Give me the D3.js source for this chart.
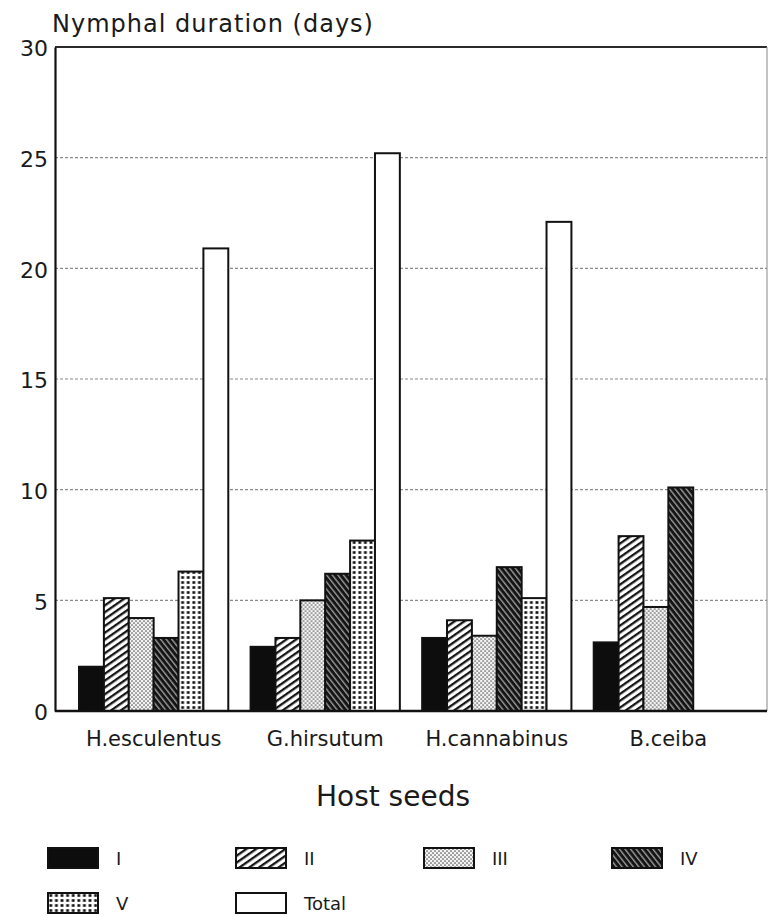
<!DOCTYPE html>
<html>
<head>
<meta charset="utf-8">
<script src="https://cdn.jsdelivr.net/npm/d3@7"></script>
<style>
  html, body { margin: 0; padding: 0; background: #fff; }
  svg { display: block; }
  text { font-family: "DejaVu Sans", sans-serif; fill: #1a1a1a; }
</style>
</head>
<body>
<svg id="chart" width="769" height="916"></svg>
<script>
// ---- data ----
const categories = ["H.esculentus", "G.hirsutum", "H.cannabinus", "B.ceiba"];
const seriesNames = ["I", "II", "III", "IV", "V", "Total"];
const instarI   = [2.0, 2.9, 3.3, 3.1];
const instarII  = [5.1, 3.3, 4.1, 7.9];
const instarIII = [4.2, 5.0, 3.4, 4.7];
const instarIV  = [3.3, 6.2, 6.5, 10.1];
const instarV   = [6.3, 7.7, 5.1, null];
const totalDur  = [20.9, 25.2, 22.1, null];
const yTicks = [0, 5, 10, 15, 20, 25, 30];
const yTitle = "Nymphal duration (days)";
const xTitle = "Host seeds";

const seriesValues = [instarI, instarII, instarIII, instarIV, instarV, totalDur];
const fills = ["url(#pI)", "url(#pII)", "url(#pIII)", "url(#pIV)", "url(#pV)", "#fff"];

// ---- layout ----
const svg = d3.select("#chart");
const plotLeft = 55, plotRight = 767, plotTop = 47, plotBottom = 711;

const y = d3.scaleLinear().domain([0, 30]).range([plotBottom, plotTop]);
const x0 = d3.scaleBand().domain(categories).range([plotLeft, plotRight])
  .paddingInner(0.13).paddingOuter(0.14);
const x1 = d3.scaleBand().domain(seriesNames).range([0, x0.bandwidth()]).padding(0);

// ---- patterns ----
const defs = svg.append("defs");
const p2 = defs.append("pattern").attr("id", "pII").attr("patternUnits", "userSpaceOnUse")
  .attr("width", 10).attr("height", 5.6).attr("patternTransform", "rotate(-35)");
p2.append("rect").attr("width", 10).attr("height", 5.6).attr("fill", "#fff");
p2.append("rect").attr("y", 0).attr("width", 10).attr("height", 2.3).attr("fill", "#151515");
const p3 = defs.append("pattern").attr("id", "pIII").attr("patternUnits", "userSpaceOnUse")
  .attr("width", 4).attr("height", 4);
p3.append("rect").attr("width", 4).attr("height", 4).attr("fill", "#f4f4f4");
p3.append("circle").attr("cx", 1).attr("cy", 1).attr("r", 0.85).attr("fill", "#555");
p3.append("circle").attr("cx", 3).attr("cy", 3).attr("r", 0.85).attr("fill", "#555");
const p4 = defs.append("pattern").attr("id", "pIV").attr("patternUnits", "userSpaceOnUse")
  .attr("width", 10).attr("height", 4.4).attr("patternTransform", "rotate(52)");
p4.append("rect").attr("width", 10).attr("height", 4.4).attr("fill", "#9a9a9a");
p4.append("rect").attr("y", 0).attr("width", 10).attr("height", 3.0).attr("fill", "#141414");
const p5 = defs.append("pattern").attr("id", "pV").attr("patternUnits", "userSpaceOnUse")
  .attr("width", 5.6).attr("height", 5);
p5.append("rect").attr("width", 5.6).attr("height", 5).attr("fill", "#fff");
p5.append("rect").attr("x", 1.4).attr("y", 1.2).attr("width", 2.8).attr("height", 2.6).attr("fill", "#111");
const p1 = defs.append("pattern").attr("id", "pI").attr("patternUnits", "userSpaceOnUse")
  .attr("width", 4).attr("height", 4);
p1.append("rect").attr("width", 4).attr("height", 4).attr("fill", "#0d0d0d");

// ---- frame / gridlines ----
svg.append("g").selectAll("line")
  .data(yTicks.filter(t => t > 0 && t < 30))
  .join("line")
  .attr("x1", plotLeft).attr("x2", plotRight)
  .attr("y1", d => y(d)).attr("y2", d => y(d))
  .attr("stroke", "#8a8a8a").attr("stroke-width", 1.2)
  .attr("stroke-dasharray", "3,2");

svg.append("line").attr("x1", plotLeft).attr("x2", plotRight).attr("y1", y(30)).attr("y2", y(30))
  .attr("stroke", "#2a2a2a").attr("stroke-width", 2);
svg.append("line").attr("x1", plotRight).attr("x2", plotRight).attr("y1", y(30)).attr("y2", y(0))
  .attr("stroke", "#9a9a9a").attr("stroke-width", 1.2);

// ---- bars ----
const groups = svg.append("g").selectAll("g")
  .data(categories)
  .join("g")
  .attr("transform", d => `translate(${x0(d)},0)`);

groups.selectAll("rect")
  .data((c, ci) => seriesNames.map((s, si) => ({ s, si, v: seriesValues[si][ci] }))
    .filter(d => d.v != null))
  .join("rect")
  .attr("x", d => x1(d.s))
  .attr("width", x1.bandwidth())
  .attr("y", d => y(d.v))
  .attr("height", d => y(0) - y(d.v))
  .attr("fill", d => fills[d.si])
  .attr("stroke", "#111").attr("stroke-width", 2);

// ---- axes ----
const yAxis = d3.axisLeft(y).tickValues(yTicks).tickSize(0).tickPadding(7);
const ya = svg.append("g").attr("transform", `translate(${plotLeft},0)`).call(yAxis);
ya.select(".domain").attr("stroke", "#111").attr("stroke-width", 2.2);
ya.selectAll("text").attr("font-size", 22).attr("font-family", "DejaVu Sans")
  .attr("dy", "0.4em").attr("fill", "#1a1a1a");

const xAxis = d3.axisBottom(x0).tickSize(0).tickPadding(20);
const xa = svg.append("g").attr("transform", `translate(0,${plotBottom})`).call(xAxis);
xa.select(".domain").attr("d", `M${plotLeft},0H${plotRight}`).attr("stroke", "#111").attr("stroke-width", 2.6);
xa.selectAll("text").attr("font-size", 21).attr("font-family", "DejaVu Sans").attr("fill", "#1a1a1a");

// ---- titles ----
svg.append("text").attr("x", 52).attr("y", 32).attr("font-size", 24)
  .attr("letter-spacing", 1).text(yTitle);
svg.append("text").attr("x", 393).attr("y", 806).attr("text-anchor", "middle")
  .attr("font-size", 28).text(xTitle);

// ---- legend ----
const legendCols = 4, legX0 = 48, legStep = 188, legY0 = 848, legRowStep = 45;
const leg = svg.append("g").selectAll("g")
  .data(seriesNames)
  .join("g")
  .attr("transform", (d, i) => `translate(${legX0 + (i % legendCols) * legStep},${legY0 + Math.floor(i / legendCols) * legRowStep})`);
leg.append("rect").attr("width", 50).attr("height", 20)
  .attr("fill", (d, i) => fills[i]).attr("stroke", "#111").attr("stroke-width", 2);
leg.append("text").attr("x", 68).attr("y", 17).attr("font-size", 18).text(d => d);
</script>
</body>
</html>
